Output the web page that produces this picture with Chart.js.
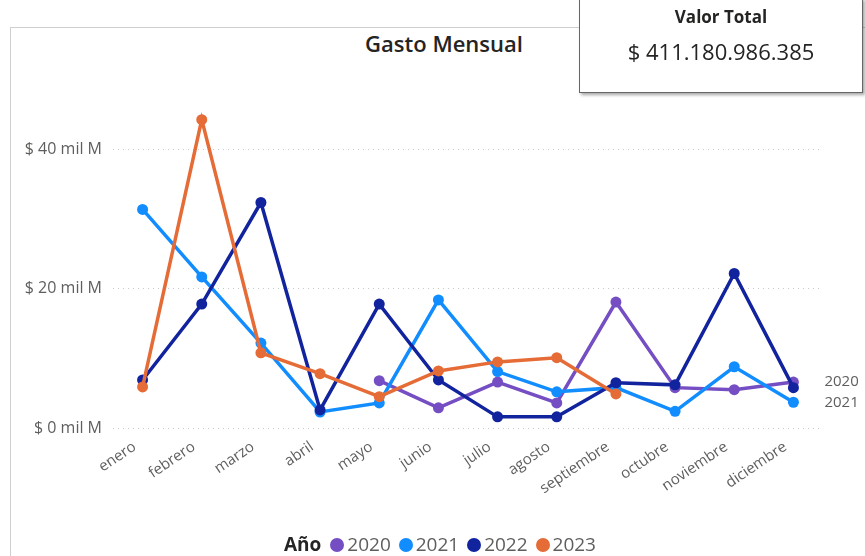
<!DOCTYPE html>
<html>
<head>
<meta charset="utf-8">
<script src="https://cdn.jsdelivr.net/npm/chart.js@4.4.0/dist/chart.umd.min.js"></script>
<style>
  body { margin: 0; width: 865px; height: 556px; overflow: hidden; background: #fff; position: relative; font-family: 'Open Sans', sans-serif; }
  #frame { position: absolute; left: 10px; top: 27px; width: 900px; height: 600px; border: 1px solid #cfcfcf; }
  #wrap { position: absolute; left: 0; top: 0; width: 865px; height: 556px; }
  #title { position: absolute; left: 0; width: 888px; top: 28px; text-align: center; font-size: 22px; font-weight: 600; color: #252423; }
  #card { position: absolute; left: 579px; top: -2px; width: 282px; height: 93px; background: #fff; border: 1px solid #666; box-shadow: 2px 2px 3px rgba(0,0,0,0.35); text-align: center; }
  #card .lbl { margin-top: 6px; font-size: 17px; font-weight: 700; color: #252423; }
  #card .val { margin-top: 8px; font-size: 22px; color: #252423; }
  #legend { position: absolute; left: 0; width: 880px; top: 531px; text-align: center; font-size: 19px; color: #605e5c; }
  #legend b { color: #252423; margin-right: 6px; }
  #legend span.dot { display: inline-block; width: 14px; height: 14px; border-radius: 50%; margin: 0 3px 0 3px; vertical-align: -1px; }
</style>
</head>
<body>
<div id="frame"></div>
<div id="title">Gasto Mensual</div>
<div id="wrap"><canvas id="gasto" width="865" height="556"></canvas></div>
<div id="card"><div class="lbl">Valor Total</div><div class="val">$ 411.180.986.385</div></div>
<div id="legend"></div>
<script>
// meses y valores (miles de millones)
var months = ['enero', 'febrero', 'marzo', 'abril', 'mayo', 'junio', 'julio', 'agosto', 'septiembre', 'octubre', 'noviembre', 'diciembre'];
var years = ['2020', '2021', '2022', '2023'];
var colors = ['#744EC2', '#118DFF', '#12239E', '#E66C37'];
var gasto2020 = [null, null, null, null, 6.8, 2.9, 6.6, 3.6, 18.1, 5.8, 5.5, 6.6];
var gasto2021 = [31.4, 21.7, 12.2, 2.3, 3.6, 18.4, 8.1, 5.2, 5.8, 2.4, 8.8, 3.7];
var gasto2022 = [6.9, 17.8, 32.4, 2.6, 17.8, 6.9, 1.6, 1.6, 6.5, 6.2, 22.2, 5.8];
var gasto2023 = [5.9, 44.3, 10.8, 7.8, 4.5, 8.2, 9.5, 10.1, 4.9, null, null, null];
var yTicks = [0, 20, 40];
var endLabels = ['2020', '2021'];

$legend = document.getElementById('legend');
var html = '<b>Año</b>';
for (var i = 0; i < years.length; i++) {
  html += '<span class="dot" style="background:' + colors[i] + '"></span>' + years[i] + ' ';
}
$legend.innerHTML = html;

function makeSet(i, values) {
  return {
    label: years[i],
    data: values,
    borderColor: colors[i],
    backgroundColor: colors[i],
    borderWidth: 3.5,
    pointRadius: 5.5,
    pointBorderWidth: 0,
    pointBackgroundColor: colors[i],
    tension: 0,
    order: 4 - i
  };
}

// etiquetas al final de la serie
var endLabelPlugin = {
  id: 'endLabels',
  afterDatasetsDraw: function(chart) {
    var ctx = chart.ctx;
    ctx.save();
    ctx.font = '15px "Open Sans"';
    ctx.fillStyle = '#605e5c';
    ctx.textBaseline = 'middle';
    chart.data.datasets.forEach(function(ds, idx) {
      if (endLabels.indexOf(ds.label) < 0) return;
      var meta = chart.getDatasetMeta(idx);
      var last = meta.data[meta.data.length - 1];
      ctx.fillText(ds.label, last.x + 31, last.y);
    });
    ctx.restore();
  }
};

var ctx = document.getElementById('gasto').getContext('2d');
var chart = new Chart(ctx, {
  type: 'line',
  data: {
    labels: months,
    datasets: [makeSet(0, gasto2020), makeSet(1, gasto2021), makeSet(2, gasto2022), makeSet(3, gasto2023)]
  },
  options: {
    responsive: false,
    animation: false,
    layout: { padding: { left: 0, right: 42, top: 80, bottom: 0 } },
    plugins: { legend: { display: false }, tooltip: { enabled: false } },
    scales: {
      x: {
        offset: true,
        grid: { display: false },
        border: { display: false },
        ticks: {
          color: '#605e5c',
          font: { family: 'Open Sans', size: 15 },
          minRotation: 34,
          maxRotation: 34,
          padding: 2,
          labelOffset: -8,
          autoSkip: false
        },
        afterFit: function(scale) { scale.height = 128; }
      },
      y: {
        min: 0,
        max: 50,
        grid: { color: '#c8c8c8', drawTicks: false, lineWidth: 1 },
        border: { display: false, dash: [1, 4] },
        ticks: {
          color: '#605e5c',
          font: { family: 'Open Sans', size: 16 },
          padding: 11,
          callback: function(v) { return '$ ' + v + ' mil M'; }
        },
        afterBuildTicks: function(scale) {
          scale.ticks = yTicks.map(function(v) { return { value: v }; });
        },
        afterFit: function(scale) { scale.width = 113; }
      }
    }
  },
  plugins: [endLabelPlugin]
});
</script>
</body>
</html>
